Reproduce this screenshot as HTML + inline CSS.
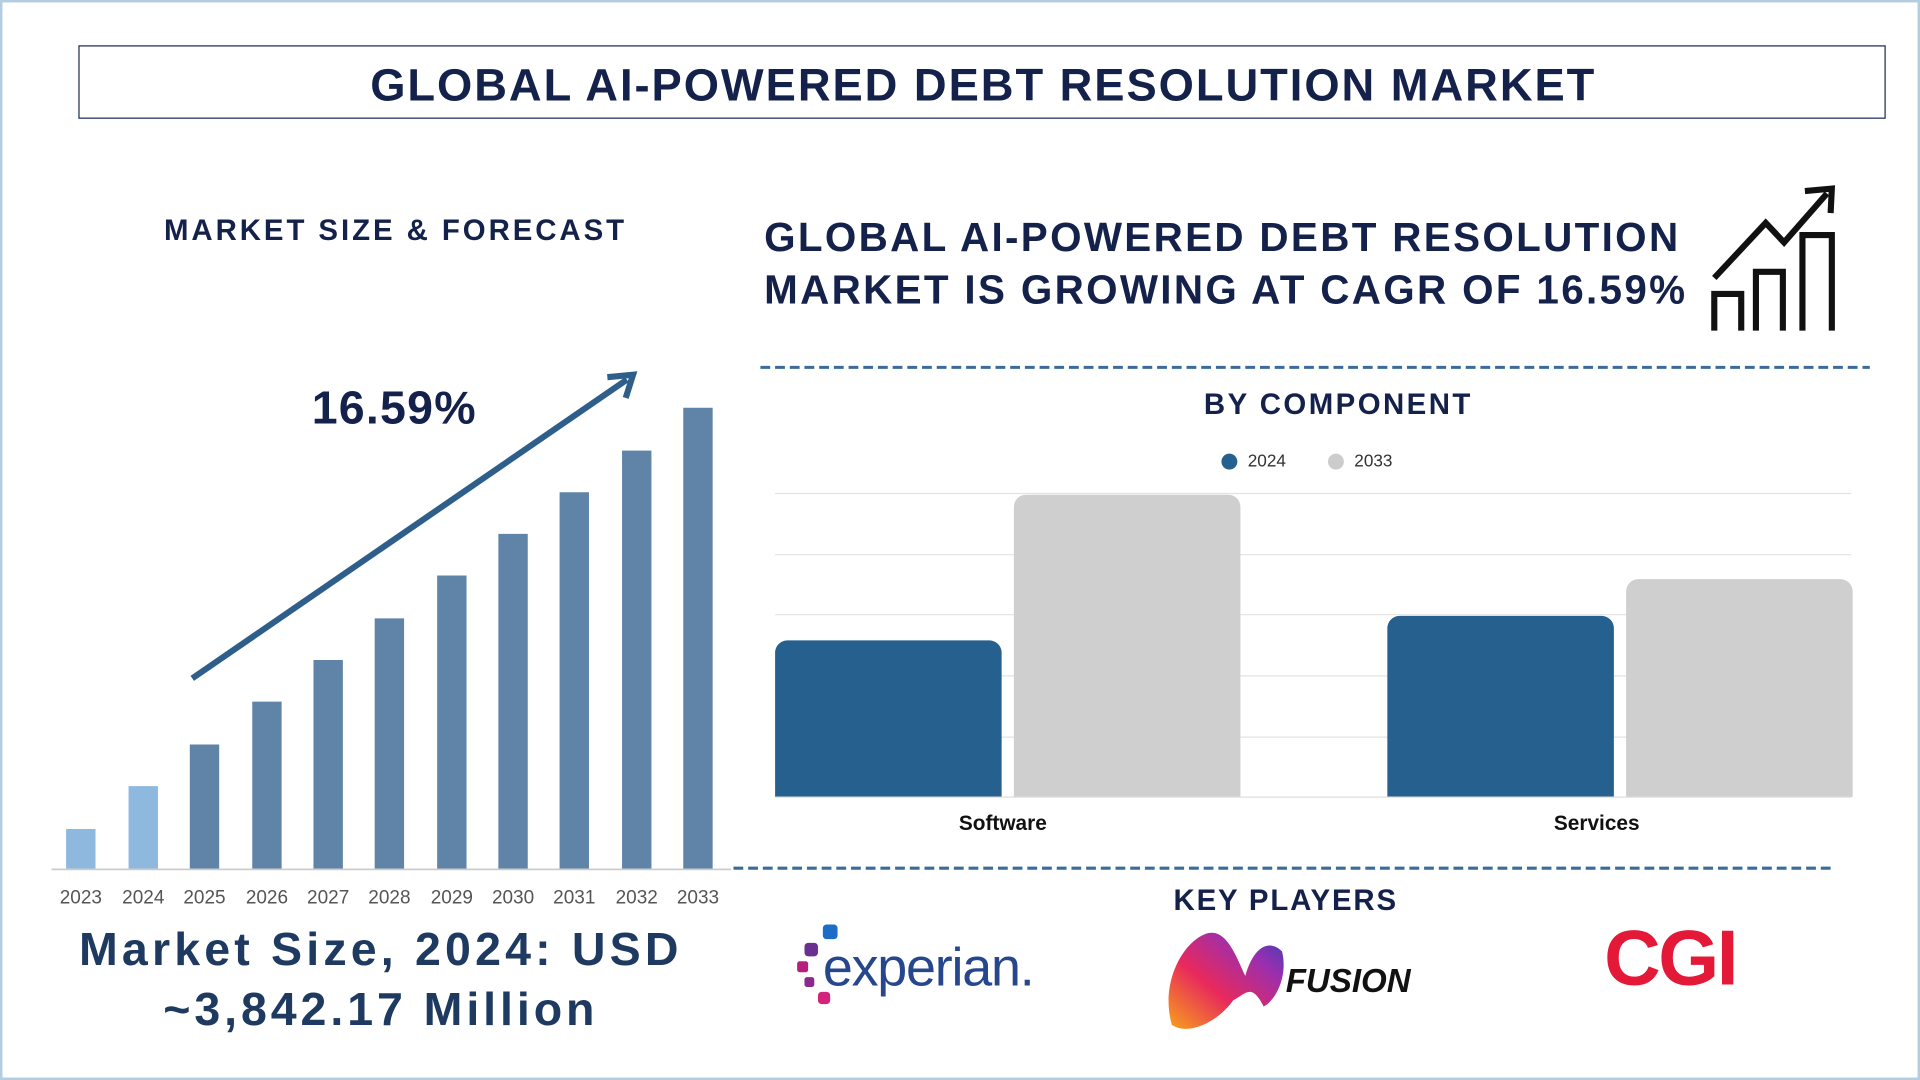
<!DOCTYPE html>
<html><head><meta charset="utf-8"><style>
html,body{margin:0;padding:0;background:#fff;overflow:hidden}
#w{width:1568px;height:882px;position:relative;transform:scale(1.22449);transform-origin:0 0;font-family:"Liberation Sans",sans-serif;box-sizing:border-box;border:2px solid #b4cce0;background:#fff}
.t{position:absolute;font-weight:bold;color:#14214a;white-space:nowrap}
.c{transform:translateX(-50%)}
.yl{position:absolute;top:723px;font-size:15.5px;color:#555;transform:translateX(-50%)}
</style></head><body><div id="w">
<div style="position:absolute;left:62px;top:35px;width:1474px;height:58px;border:1.5px solid #1c2a55"></div>
<div class="t c" style="left:801px;top:47px;font-size:37px;letter-spacing:1.6px">GLOBAL AI-POWERED DEBT RESOLUTION MARKET</div>
<div class="t c" style="left:321px;top:173px;font-size:24px;letter-spacing:2.4px">MARKET SIZE &amp; FORECAST</div>
<svg style="position:absolute;left:0;top:0" width="1568" height="882">
<g fill="#5f84a8">
<rect x="52" y="675" width="24" height="33" fill="#8fb8de"/><rect x="103" y="640" width="24" height="68" fill="#8fb8de"/>
<rect x="153" y="606" width="24" height="102"/><rect x="204" y="571" width="24" height="137"/><rect x="254" y="537" width="24" height="171"/><rect x="304" y="503" width="24" height="205"/><rect x="355" y="468" width="24" height="240"/><rect x="405" y="434" width="24" height="274"/><rect x="455" y="400" width="24" height="308"/><rect x="506" y="366" width="24" height="342"/><rect x="556" y="331" width="24" height="377"/>
</g>
<line x1="40" y1="708" x2="595" y2="708" stroke="#ccc" stroke-width="1.5"/>
<line x1="155" y1="552" x2="510" y2="308" stroke="#2e5f8a" stroke-width="5"/>
<polyline points="494,306 515,304 509,323" fill="none" stroke="#2e5f8a" stroke-width="5"/>
<line x1="619" y1="298" x2="1525" y2="298" stroke="#3a6b9a" stroke-width="2.5" stroke-dasharray="8,4"/>
<line x1="597" y1="707" x2="1493" y2="707" stroke="#3a6b9a" stroke-width="2.5" stroke-dasharray="8,4"/>
<g stroke="#e3e3e3" stroke-width="1"><line x1="631" y1="401" x2="1510" y2="401"/><line x1="631" y1="451" x2="1510" y2="451"/><line x1="631" y1="500" x2="1510" y2="500"/><line x1="631" y1="550" x2="1510" y2="550"/><line x1="631" y1="600" x2="1510" y2="600"/></g>
<path d="M631,649V531a10,10 0 0 1 10,-10H806a10,10 0 0 1 10,10V649Z" fill="#25608f"/>
<path d="M826,649V412a10,10 0 0 1 10,-10H1001a10,10 0 0 1 10,10V649Z" fill="#cfcfcf"/>
<path d="M1131,649V511a10,10 0 0 1 10,-10H1306a10,10 0 0 1 10,10V649Z" fill="#25608f"/>
<path d="M1326,649V481a10,10 0 0 1 10,-10H1501a10,10 0 0 1 10,10V649Z" fill="#cfcfcf"/>
<line x1="631" y1="649" x2="1510" y2="649" stroke="#ddd"/>
<circle cx="1002" cy="375" r="6.5" fill="#25608f"/><circle cx="1089" cy="375" r="6.5" fill="#ccc"/>
<g fill="none" stroke="#111" stroke-width="5">
<polyline points="1398,225 1440,180 1455,196 1490,156"/><polyline points="1472,154 1494,152 1493,172"/>
<polyline points="1398,268 1398,238 1420,238 1420,268"/><polyline points="1432,268 1432,220 1454,220 1454,268"/><polyline points="1470,268 1470,190 1494,190 1494,268"/>
</g>
<g><rect x="670" y="753" width="12" height="12" rx="3" fill="#1d6cc7"/><rect x="655" y="768" width="11" height="11" rx="3" fill="#6b2f8f"/><rect x="649" y="783" width="9" height="9" rx="2" fill="#b5207e"/><rect x="655" y="796" width="8" height="8" rx="2" fill="#8a2a8c"/><rect x="666" y="808" width="10" height="10" rx="3" fill="#d4237b"/></g>
<defs><linearGradient id="g" x1="0" y1="1" x2="1" y2="0"><stop offset="0" stop-color="#f7a21b"/><stop offset="0.4" stop-color="#e8295c"/><stop offset="0.75" stop-color="#9b2fae"/><stop offset="1" stop-color="#3b3fb8"/></linearGradient></defs>
<path d="M955,835 C945,800 965,765 985,760 C1000,757 1008,780 1015,795 C1022,770 1035,765 1045,775 C1050,795 1040,815 1030,820 C1020,800 1015,810 1005,815 C995,830 970,845 955,835Z" fill="url(#g)"/>
</svg>
<div class="yl" style="left:64px">2023</div><div class="yl" style="left:115px">2024</div><div class="yl" style="left:165px">2025</div><div class="yl" style="left:216px">2026</div><div class="yl" style="left:266px">2027</div><div class="yl" style="left:316px">2028</div><div class="yl" style="left:367px">2029</div><div class="yl" style="left:417px">2030</div><div class="yl" style="left:467px">2031</div><div class="yl" style="left:518px">2032</div><div class="yl" style="left:568px">2033</div>
<div class="t c" style="left:320px;top:311px;font-size:38px;letter-spacing:1px">16.59%</div>
<div class="t c" style="left:309px;top:753px;font-size:38px;color:#1f3a60;letter-spacing:3.4px">Market Size, 2024: USD</div>
<div class="t c" style="left:309px;top:802px;font-size:38px;color:#1f3a60;letter-spacing:3.2px">~3,842.17 Million</div>
<div class="t" style="left:622px;top:173px;font-size:33px;letter-spacing:1.9px">GLOBAL AI-POWERED DEBT RESOLUTION</div>
<div class="t" style="left:622px;top:216px;font-size:33px;letter-spacing:1.9px">MARKET IS GROWING AT CAGR OF 16.59%</div>
<div class="t c" style="left:1091px;top:315px;font-size:24px;letter-spacing:2px">BY COMPONENT</div>
<div class="t" style="left:1017px;top:366px;font-size:14px;font-weight:normal;color:#333">2024</div>
<div class="t" style="left:1104px;top:366px;font-size:14px;font-weight:normal;color:#333">2033</div>
<div class="t c" style="left:817px;top:661px;font-size:17px;color:#111">Software</div>
<div class="t c" style="left:1302px;top:661px;font-size:17px;color:#111">Services</div>
<div class="t c" style="left:1048px;top:720px;font-size:24px;letter-spacing:1.5px">KEY PLAYERS</div>
<div class="t" style="left:670px;top:764px;font-size:44px;font-weight:normal;color:#26478d;letter-spacing:-1px">experian.</div>
<div class="t" style="left:1048px;top:784px;font-size:27px;font-style:italic;color:#111">FUSION</div>
<div class="t" style="left:1308px;top:743px;font-size:64px;color:#e31937;letter-spacing:-2px">CGI</div>
</div></body></html>
